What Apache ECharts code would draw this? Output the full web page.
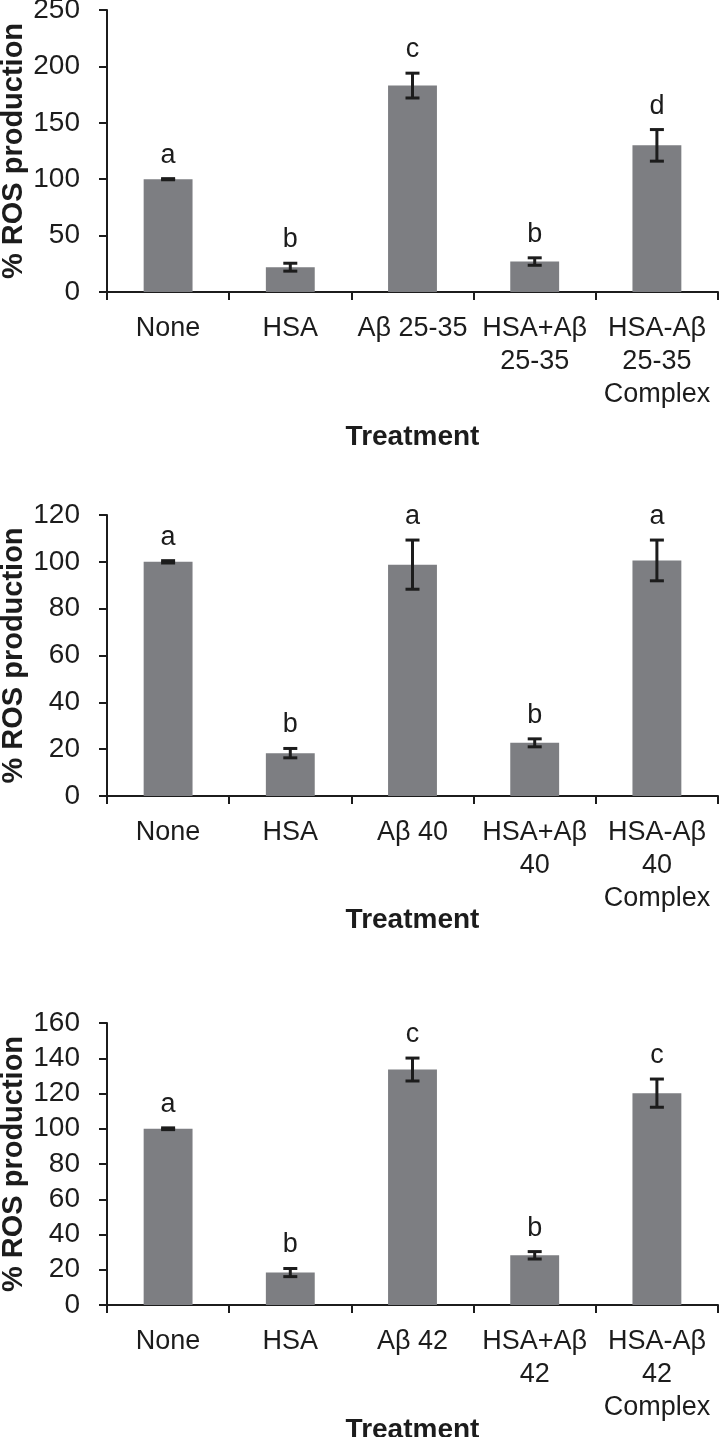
<!DOCTYPE html>
<html>
<head>
<meta charset="utf-8">
<script src="https://cdn.jsdelivr.net/npm/echarts@6/dist/echarts.min.js"></script>
<style>
  html, body { margin: 0; padding: 0; background: #fff; }
  #main { width: 719px; height: 1437px; }
</style>
</head>
<body>
<div id="main"></div>
<script>
// panel A - Abeta 25-35
var cats1 = ['None', 'HSA', 'Aβ 25-35', 'HSA+Aβ\n25-35', 'HSA-Aβ\n25-35\nComplex'];
var vals1 = [100, 22, 183, 27, 130];
var errs1 = [0.5, 3.5, 11, 3.3, 14];
var letters1 = ['a', 'b', 'c', 'b', 'd'];
var ticks1 = { min: 0, max: 250, interval: 50 };

// panel B - Abeta 40
var cats2 = ['None', 'HSA', 'Aβ 40', 'HSA+Aβ\n40', 'HSA-Aβ\n40\nComplex'];
var vals2 = [100, 18.3, 98.8, 22.7, 100.6];
var errs2 = [0.5, 2, 10.5, 1.7, 8.7];
var letters2 = ['a', 'b', 'a', 'b', 'a'];
var ticks2 = { min: 0, max: 120, interval: 20 };

// panel C - Abeta 42
var cats3 = ['None', 'HSA', 'Aβ 42', 'HSA+Aβ\n42', 'HSA-Aβ\n42\nComplex'];
var vals3 = [100, 18.4, 133.6, 28.2, 120.2];
var errs3 = [0.5, 2.3, 6.5, 2.1, 8];
var letters3 = ['a', 'b', 'c', 'b', 'c'];
var ticks3 = { min: 0, max: 160, interval: 20 };

var font = "'Liberation Sans', Arial, sans-serif";
var ink = '#1c1c1c';

var grids = [];
var xAxes = [];
var yAxes = [];
var series = [];

function addPanel(i, cats, vals, errs, letters, ticks, top, height, nameGap) {
  grids.push({ left: 107, right: 1, top: top, height: height, outerBoundsMode: 'none', containLabel: false });

  xAxes.push({
    gridIndex: i,
    type: 'category',
    data: cats,
    name: 'Treatment',
    nameLocation: 'middle',
    nameGap: nameGap,
    nameMoveOverlap: false,
    nameTextStyle: { fontFamily: font, fontSize: 28, fontWeight: 'bold', color: ink, verticalAlign: 'middle' },
    axisLine: { lineStyle: { color: ink, width: 2 } },
    axisTick: { show: true, length: 8, lineStyle: { color: ink, width: 2 } },
    axisLabel: { interval: 0, margin: 20, fontFamily: font, fontSize: 27, color: ink, lineHeight: 33 }
  });

  yAxes.push({
    gridIndex: i,
    type: 'value',
    min: ticks.min,
    max: ticks.max,
    interval: ticks.interval,
    name: '% ROS production',
    nameLocation: 'middle',
    nameGap: 93,
    nameMoveOverlap: false,
    nameTextStyle: { fontFamily: font, fontSize: 29, fontWeight: 'bold', color: ink, verticalAlign: 'middle' },
    axisLine: { show: true, lineStyle: { color: ink, width: 2 } },
    axisTick: { show: true, length: 8, lineStyle: { color: ink, width: 2 } },
    axisLabel: { margin: 27, fontFamily: font, fontSize: 28, color: ink },
    splitLine: { show: false }
  });

  series.push({
    type: 'bar',
    xAxisIndex: i,
    yAxisIndex: i,
    data: vals,
    barWidth: '40%',
    itemStyle: { color: '#7d7e82' },
    silent: true
  });

  var errData = [];
  var topData = [];
  for (var k = 0; k < vals.length; k++) {
    errData.push([k, vals[k] - errs[k], vals[k] + errs[k]]);
    topData.push([k, vals[k] + errs[k]]);
  }

  series.push({
    type: 'custom',
    xAxisIndex: i,
    yAxisIndex: i,
    data: errData,
    encode: { x: 0, y: [1, 2] },
    z: 5,
    silent: true,
    renderItem: function (params, api) {
      var lo = api.coord([api.value(0), api.value(1)]);
      var hi = api.coord([api.value(0), api.value(2)]);
      var hw = 7;
      var st = { stroke: ink, lineWidth: 3 };
      return {
        type: 'group',
        children: [
          { type: 'line', shape: { x1: hi[0], y1: hi[1], x2: lo[0], y2: lo[1] }, style: st },
          { type: 'line', shape: { x1: hi[0] - hw, y1: hi[1], x2: hi[0] + hw, y2: hi[1] }, style: st },
          { type: 'line', shape: { x1: lo[0] - hw, y1: lo[1], x2: lo[0] + hw, y2: lo[1] }, style: st }
        ]
      };
    }
  });

  series.push({
    type: 'scatter',
    xAxisIndex: i,
    yAxisIndex: i,
    data: topData,
    symbolSize: 0,
    silent: true,
    itemStyle: { opacity: 1 },
    label: {
      show: true,
      position: 'top',
      distance: 10,
      fontFamily: font,
      fontSize: 27,
      color: ink,
      formatter: function (p) { return letters[p.dataIndex]; }
    }
  });
}

addPanel(0, cats1, vals1, errs1, letters1, ticks1, 10, 282, 145);
addPanel(1, cats2, vals2, errs2, letters2, ticks2, 515, 281, 124);
addPanel(2, cats3, vals3, errs3, letters3, ticks3, 1023, 282, 125);

var chart = echarts.init(document.getElementById('main'));
chart.setOption({
  animation: false,
  backgroundColor: '#ffffff',
  grid: grids,
  xAxis: xAxes,
  yAxis: yAxes,
  series: series
});
</script>
</body>
</html>
